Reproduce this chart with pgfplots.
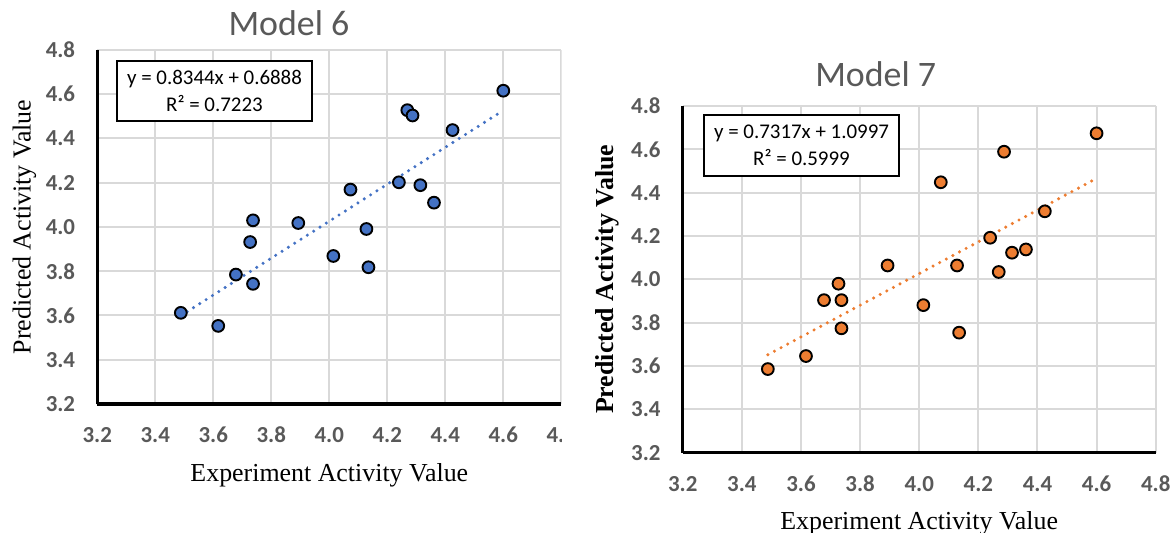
\documentclass[border=0pt]{standalone}
\usepackage{pgfplots}
\pgfplotsset{compat=1.18}
\usepackage{pgfplotstable}
\usepackage{fontspec}
\setmainfont{Liberation Serif}
\newfontfamily\calibri{Carlito}
\newfontfamily\calibrib{Carlito Bold}
\definecolor{gridgray}{RGB}{217,217,217}
\definecolor{tickgray}{RGB}{89,89,89}
\definecolor{mblue}{RGB}{68,114,196}
\definecolor{morange}{RGB}{237,125,49}

\pgfplotstableread{
x y
3.488 3.612
3.617 3.553
3.678 3.785
3.727 3.932
3.737 4.030
3.737 3.743
3.893 4.018
4.014 3.869
4.073 4.169
4.128 3.991
4.135 3.818
4.240 4.202
4.269 4.528
4.287 4.504
4.314 4.189
4.361 4.110
4.425 4.438
4.600 4.616
}\modelsix

\pgfplotstableread{
x y
3.488 3.586
3.617 3.646
3.678 3.904
3.727 3.980
3.737 3.904
3.737 3.774
3.893 4.064
4.014 3.881
4.073 4.448
4.128 4.064
4.135 3.754
4.240 4.192
4.269 4.034
4.287 4.589
4.314 4.123
4.361 4.138
4.425 4.314
4.600 4.674
}\modelseven

\tikzset{
 eqbox/.style={draw, line width=2bp, fill=white, minimum width=195bp, minimum height=60.5bp, align=center, inner sep=0pt, font=\calibri\fontsize{21}{27}\selectfont},
}
\pgfplotsset{
 myax/.style={scale only axis, anchor=south west,
  xmin=3.2,xmax=4.8,ymin=3.2,ymax=4.8,
  xtick={3.2,3.4,3.6,3.8,4.0,4.2,4.4,4.6,4.8},
  ytick={3.2,3.4,3.6,3.8,4.0,4.2,4.4,4.6,4.8},
  grid=major, grid style={line width=2bp, gridgray},
  axis lines*=left, axis line style={line width=3bp, black},
  major tick length=0pt,
  tick label style={font=\calibrib\fontsize{23}{27}\selectfont, text=tickgray},
  /pgf/number format/.cd, fixed, fixed zerofill, precision=1, assume math mode=true, /pgfplots/.cd,
  xticklabel style={anchor=center, yshift=-31bp},
  yticklabel style={anchor=east, inner sep=0pt, xshift=-22bp},
  label style={font=\fontsize{26}{30}\selectfont},
  title style={font=\calibri\fontsize{36}{40}\selectfont, text=tickgray, anchor=base},
  clip=false,
 },
 pts/.style={only marks, mark=*, mark size=5.9bp, mark options={draw=black, line width=1.9bp, fill=#1}},
 trend/.style={#1, line width=3.4bp, line cap=round, dash pattern=on 0bp off 7.5bp},
}

\begin{document}
\begin{tikzpicture}
\useasboundingbox (0,0) rectangle (1173bp,533bp);
\clip (0,0) rectangle (1173bp,533bp);

\begin{scope}
\clip (0,0) rectangle (561.5bp,533bp);
\begin{axis}[myax, at={(97.3bp,129bp)}, width=464bp, height=354bp,
  title={Model 6}, title style={at={(axis description cs:0.413,1.0235)}},
  xlabel={Experiment Activity Value}, xlabel style={at={(axis description cs:0.5,-0.2203)}, anchor=base},
  ylabel={Predicted Activity Value}, ylabel style={at={(axis description cs:-0.157,0.5)}, anchor=center}]
\addplot[trend=mblue] coordinates {(3.488,3.599) (4.600,4.527)};
\addplot[pts=mblue] table[x=x,y=y] {\modelsix};
\node[eqbox] at (rel axis cs:0.2526,0.884) {y = 0.8344x + 0.6888\\R² = 0.7223};
\end{axis}
\end{scope}

\begin{axis}[myax, at={(682.7bp,80.3bp)}, width=473bp, height=346.7bp,
  title={Model 7}, title style={at={(axis description cs:0.408,1.0384)}},
  xlabel={Experiment Activity Value}, xlabel style={at={(axis description cs:0.5,-0.2221)}, anchor=base},
  ylabel={\bfseries Predicted Activity Value}, ylabel style={at={(axis description cs:-0.1586,0.5)}, anchor=center}]
\addplot[trend=morange] coordinates {(3.488,3.652) (4.600,4.466)};
\addplot[pts=morange] table[x=x,y=y] {\modelseven};
\node[eqbox] at (rel axis cs:0.2512,0.8856) {y = 0.7317x + 1.0997\\R² = 0.5999};
\end{axis}
\end{tikzpicture}
\end{document}
